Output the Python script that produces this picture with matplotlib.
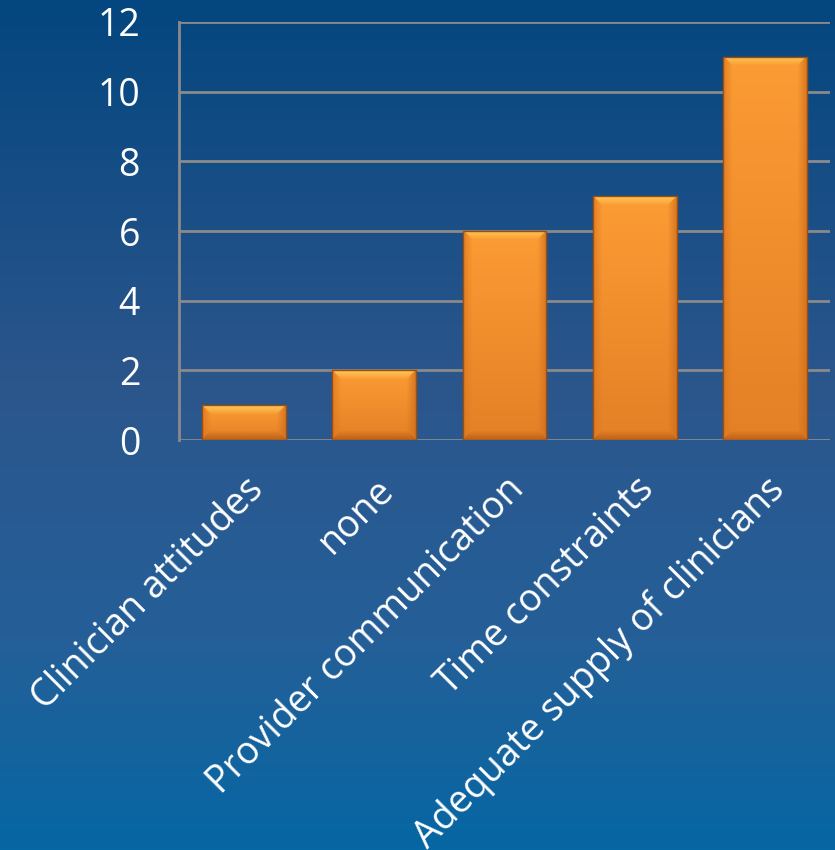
import numpy as np
import matplotlib
matplotlib.use("Agg")
import matplotlib.pyplot as plt
from matplotlib.colors import LinearSegmentedColormap

categories = ["Clinician attitudes", "none", "Provider communication",
              "Time constraints", "Adequate supply of clinicians"]
values = [1, 2, 6, 7, 11]
yticks = [0, 2, 4, 6, 8, 10, 12]

plt.rcParams['font.family'] = ['Open Sans', 'DejaVu Sans']

W, H = 835, 850
fig = plt.figure(figsize=(W / 100, H / 100), dpi=100)

# background gradient
bg = fig.add_axes([0, 0, 1, 1], zorder=-10)
cmap = LinearSegmentedColormap.from_list(
    "bg", [(0.0, "#04467f"), (0.45, "#2b568c"), (0.75, "#255f98"), (1.0, "#0567a3")])
grad = np.linspace(0, 1, 256).reshape(-1, 1)
bg.imshow(grad, aspect="auto", cmap=cmap, extent=[0, 1, 0, 1], origin="upper")
bg.axis("off")

ax_px = (179, 440, 651, 418)  # left, bottom(from top), width, height
ax = fig.add_axes([ax_px[0] / W, 1 - ax_px[1] / H, ax_px[2] / W, ax_px[3] / H])
ax.patch.set_alpha(0)
x = np.arange(len(categories))
w = 0.645
ax.set_xlim(-0.5, len(categories) - 0.5)
ax.set_ylim(0, 12)
bars = ax.bar(x, values, width=w, color="none", edgecolor="#9a4e10", linewidth=1.0, zorder=4)


def bevel_image(hp, wp, b=9):
    hp = max(int(hp), 2)
    wp = max(int(wp), 2)
    yy, xx = np.mgrid[0:hp, 0:wp].astype(float)
    t = yy / (hp - 1)
    top = np.array([252, 156, 52]) / 255
    bot = np.array([228, 128, 38]) / 255
    img = top[None, None, :] * (1 - t[..., None]) + bot[None, None, :] * t[..., None]
    dt = yy
    db = hp - 1 - yy
    dl = xx
    dr = wp - 1 - xx
    dmin = np.minimum(np.minimum(dt, db), np.minimum(dl, dr))
    inb = dmin < b
    f = (1 - dmin / b)
    hi = np.array([255, 214, 100]) / 255
    side = np.array([222, 118, 30]) / 255
    dark = np.array([175, 88, 20]) / 255
    for d, col in ((dt, hi), (dl, side), (dr, side * 0.93), (db, dark)):
        m = inb & (d == dmin)
        img[m] = img[m] * (1 - f[m, None] * 0.75) + col * (f[m, None] * 0.75)
    return np.clip(img, 0, 1)


px_per_y = ax_px[3] / 12
px_per_x = ax_px[2] / len(categories)
for bar, v in zip(bars, values):
    img = bevel_image(v * px_per_y, w * px_per_x)
    im = ax.imshow(img, extent=[bar.get_x(), bar.get_x() + w, 0, v],
                   origin="upper", aspect="auto", zorder=3, interpolation="bilinear")
    im.set_clip_path(bar)
ax.set_xlim(-0.5, len(categories) - 0.5)
ax.set_ylim(0, 12)

ax.set_yticks(yticks)
ax.set_yticklabels([str(t) for t in yticks], color="white", fontsize=27)
ax.set_xticks(x)
ax.set_xticklabels(categories, rotation=45, ha="right", rotation_mode="anchor",
                   color="white", fontsize=27)
ax.tick_params(axis="y", length=0, pad=28)
ax.tick_params(axis="x", length=0, pad=22)
ax.yaxis.grid(True, color="#8a8a8a", linewidth=2)
ax.set_axisbelow(True)
for s in ["top", "right", "bottom"]:
    ax.spines[s].set_visible(False)
ax.spines["left"].set_color("#8a8a8a")
ax.spines["left"].set_linewidth(2)

fig.savefig("out.png", dpi=100)
